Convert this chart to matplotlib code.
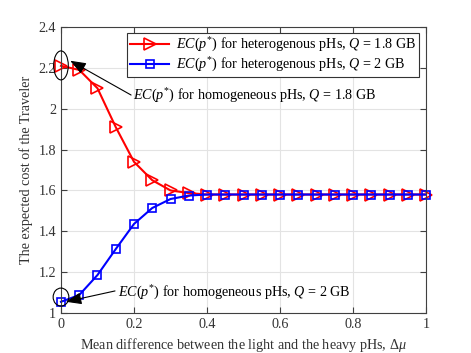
import numpy as np
import matplotlib
matplotlib.use("Agg")
import matplotlib.pyplot as plt
from matplotlib.patches import Ellipse

plt.rcParams['font.family'] = ['Liberation Serif', 'DejaVu Serif']
plt.rcParams['mathtext.fontset'] = 'custom'
plt.rcParams['mathtext.rm'] = 'Liberation Serif'
plt.rcParams['mathtext.it'] = 'Liberation Serif:italic'

# data
delta_mu = [0, 0.05, 0.1, 0.15, 0.2, 0.25, 0.3, 0.35, 0.4, 0.45, 0.5,
            0.55, 0.6, 0.65, 0.7, 0.75, 0.8, 0.85, 0.9, 0.95, 1.0]
ec_q18 = [2.21, 2.19, 2.10, 1.91, 1.74, 1.65, 1.60, 1.587, 1.58, 1.58, 1.58,
          1.58, 1.58, 1.58, 1.58, 1.58, 1.58, 1.58, 1.58, 1.58, 1.58]
ec_q2 = [1.055, 1.088, 1.186, 1.313, 1.436, 1.514, 1.558, 1.575, 1.58, 1.58, 1.58,
         1.58, 1.58, 1.58, 1.58, 1.58, 1.58, 1.58, 1.58, 1.58, 1.58]
xticks = [0, 0.2, 0.4, 0.6, 0.8, 1]
yticks = [1, 1.2, 1.4, 1.6, 1.8, 2, 2.2, 2.4]

fs = 10.2
fig = plt.figure(figsize=(4.71, 3.53), dpi=100)
ax = fig.add_axes([0.1295, 0.1133, 0.775, 0.8102])

ax.plot(delta_mu, ec_q18, color='red', lw=1.5, marker='>', ms=8, mfc='none', mew=1.2,
        label=r'$EC(p^{*})$ for heterogenous pHs, $Q$ = 1.8 GB', clip_on=False)
ax.plot(delta_mu, ec_q2, color='blue', lw=1.5, marker='s', ms=6, mfc='none', mew=1.2,
        label=r'$EC(p^{*})$ for heterogenous pHs, $Q$ = 2 GB', clip_on=False)

ax.set_xlim(0, 1)
ax.set_ylim(1, 2.4)
ax.set_xticks(xticks)
ax.set_xticklabels(['0', '0.2', '0.4', '0.6', '0.8', '1'])
ax.set_yticks(yticks)
ax.set_yticklabels(['1', '1.2', '1.4', '1.6', '1.8', '2', '2.2', '2.4'])
ax.grid(True, color='#e3e3e3', lw=0.8)
ax.set_axisbelow(True)
ax.tick_params(direction='in', top=True, right=True, labelsize=fs, colors='#404040',
               labelcolor='#333333', length=4)
for s in ax.spines.values():
    s.set_color('#404040')
    s.set_linewidth(0.8)

ax.set_xlabel(r'Mean difference between the light and the heavy pHs, $\Delta\mu$',
              fontsize=fs, color='#333333', labelpad=4)
ax.set_ylabel('The expected cost of the Traveler', fontsize=fs, color='#333333', labelpad=4)

leg = ax.legend(loc='upper right', fontsize=fs, fancybox=False, framealpha=1,
                edgecolor='#333333', handlelength=2.8, handletextpad=0.5,
                borderpad=0.2, labelspacing=0.12, borderaxespad=0,
                bbox_to_anchor=(0.982, 0.98))
leg.get_frame().set_linewidth(0.8)

# circles around the homogeneous points
ax.add_patch(Ellipse((0, 2.212), 0.04, 0.142, fill=False, ec='black', lw=0.8,
                     clip_on=False, zorder=5))
ax.add_patch(Ellipse((0, 1.078), 0.043, 0.088, fill=False, ec='black', lw=0.8,
                     clip_on=False, zorder=5))

arrow = dict(arrowstyle='-|>,head_length=0.8,head_width=0.3', color='black', lw=0.8,
             shrinkA=0, shrinkB=0, mutation_scale=12)
ax.text(0.198, 2.062, r'$EC(p^{*})$ for homogeneous pHs, $Q$ = 1.8 GB', fontsize=fs,
        va='center', ha='left')
ax.annotate('', xy=(0.025, 2.235), xytext=(0.192, 2.067), arrowprops=arrow)
ax.text(0.156, 1.098, r'$EC(p^{*})$ for homogeneous pHs, $Q$ = 2 GB', fontsize=fs,
        va='center', ha='left')
ax.annotate('', xy=(0.013, 1.055), xytext=(0.148, 1.108), arrowprops=arrow)

fig.savefig('out.png', dpi=100)
